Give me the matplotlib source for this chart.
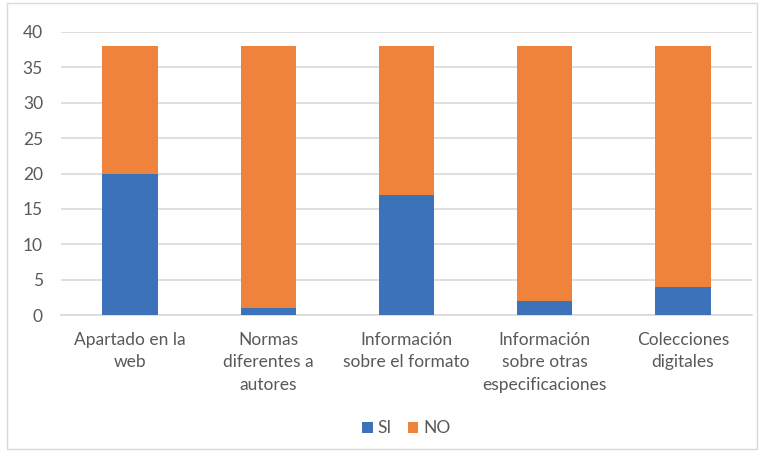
import numpy as np
import matplotlib.pyplot as plt
from matplotlib.patches import Rectangle

categories = ["Apartado en la\nweb", "Normas\ndiferentes a\nautores",
              "Información\nsobre el formato", "Información\nsobre otras\nespecificaciones",
              "Colecciones\ndigitales"]
si_values = [20, 1, 17, 2, 4]
no_values = [18, 37, 21, 36, 34]
y_ticks = [0, 5, 10, 15, 20, 25, 30, 35, 40]

blue = "#3c72b9"
orange = "#f0833c"
text_gray = "#595959"

plt.rcParams['font.family'] = ['Lato', 'DejaVu Sans']

fig = plt.figure(figsize=(7.64, 4.51), dpi=100)
ax = fig.add_axes([61 / 764, 1 - 315 / 451, 691 / 764, 283 / 451])

x = np.arange(len(categories))
ax.bar(x, si_values, width=0.4, color=blue, label="SI", zorder=3)
ax.bar(x, no_values, width=0.4, bottom=si_values, color=orange, label="NO", zorder=3)

ax.set_xlim(-0.5, len(categories) - 0.5)
ax.set_ylim(0, 40)
ax.set_yticks(y_ticks)
ax.yaxis.grid(True, color="#d9d9d9", linewidth=1.2, zorder=0)
for side in ["top", "right", "left"]:
    ax.spines[side].set_visible(False)
ax.spines["bottom"].set_color("#d9d9d9")
ax.spines["bottom"].set_linewidth(1.2)
ax.tick_params(axis="both", length=0, labelsize=12.5, colors=text_gray)
ax.tick_params(axis="y", pad=13)
ax.tick_params(axis="x", pad=12)
ax.set_xticks(x)
ax.set_xticklabels(categories, linespacing=1.5)

ax.legend(loc="center", bbox_to_anchor=(0.5, -0.40), ncol=2, frameon=False,
          fontsize=12.5, labelcolor=text_gray, handlelength=0.6, handleheight=0.6,
          handletextpad=0.3, columnspacing=0.9)

# light outer frame around the whole chart
fig.patches.append(Rectangle((7 / 764, 2 / 451), 750 / 764, 446 / 451,
                             transform=fig.transFigure, fill=False,
                             edgecolor="#d9d9d9", linewidth=1))

fig.savefig("out.png", dpi=100)
